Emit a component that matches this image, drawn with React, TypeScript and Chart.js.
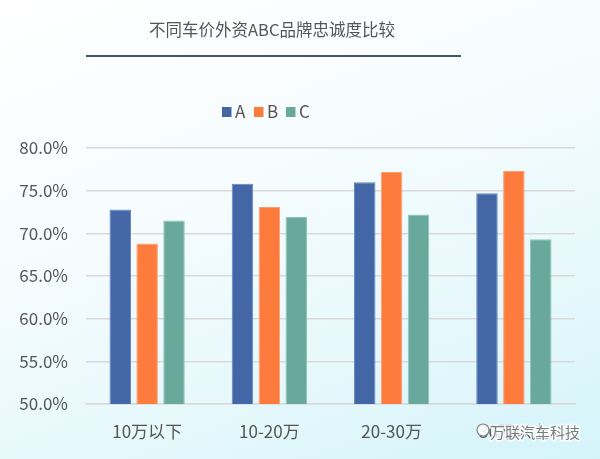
import React, { useEffect, useRef } from "react";
import { Chart, registerables } from "chart.js";

Chart.register(...registerables);

const titleText = "不同车价外资ABC品牌忠诚度比较";
const categories = ["10万以下", "10-20万", "20-30万", "30万以上"];
const seriesNames = ["A", "B", "C"];
const seriesA = [72.8, 75.8, 76.0, 74.7];
const seriesB = [68.8, 73.1, 77.2, 77.3];
const seriesC = [71.5, 71.9, 72.2, 69.3];
const yMin = 50;
const yMax = 80;
const yStep = 5;
const watermark = "万联汽车科技";

const colors = ["#4266a6", "#fe7b3e", "#69a99d"];
const borders = ["#6a88bd", "#ff9d70", "#93c4bb"];
const FONT = '"Noto Sans CJK SC", "Noto Sans", sans-serif';
const TEXT = "#555555";

const decorPlugin = {
  id: "decor",
  afterDraw(chart: any) {
    const ctx = chart.ctx;
    ctx.save();
    // title
    ctx.fillStyle = TEXT;
    ctx.font = `16.5px ${FONT}`;
    ctx.textAlign = "center";
    ctx.textBaseline = "middle";
    ctx.fillText(titleText, 272, 30);
    // rule under title
    ctx.strokeStyle = "#44546a";
    ctx.lineWidth = 2.2;
    ctx.beginPath();
    ctx.moveTo(86, 56);
    ctx.lineTo(461, 56);
    ctx.stroke();
    // legend
    ctx.font = `17px ${FONT}`;
    ctx.textAlign = "left";
    chart.data.datasets.forEach((ds: any, i: number) => {
      const x = 222 + i * 32;
      ctx.fillStyle = ds.backgroundColor;
      ctx.fillRect(x, 107, 9.5, 10);
      ctx.fillStyle = TEXT;
      ctx.fillText(ds.label, x + 13, 112);
    });
    // watermark
    ctx.font = `15px ${FONT}`;
    ctx.textAlign = "left";
    ctx.lineWidth = 3;
    ctx.strokeStyle = "rgba(255,255,255,0.85)";
    ctx.strokeText(watermark, 490, 432);
    ctx.fillStyle = "rgba(110,110,110,0.9)";
    ctx.fillText(watermark, 490, 432);
    ctx.beginPath();
    ctx.fillStyle = "rgba(255,255,255,0.9)";
    ctx.arc(483, 430, 6, 0, Math.PI * 2);
    ctx.fill();
    ctx.strokeStyle = "rgba(120,120,120,0.9)";
    ctx.lineWidth = 1.2;
    ctx.stroke();
    ctx.restore();
  },
};

export default function App() {
  const ref = useRef<HTMLCanvasElement>(null);
  useEffect(() => {
    if (!ref.current) return;
    const chart = new Chart(ref.current, {
      type: "bar",
      data: {
        labels: categories,
        datasets: [seriesA, seriesB, seriesC].map((d, i) => ({
          label: seriesNames[i],
          data: d,
          backgroundColor: colors[i],
          borderColor: borders[i],
          borderWidth: 1,
          categoryPercentage: 0.66,
          barPercentage: 0.8,
        })),
      },
      options: {
        animation: false,
        responsive: false,
        devicePixelRatio: 1,
        layout: { padding: { top: 148, left: 0, right: 25, bottom: 0 } },
        plugins: {
          legend: { display: false },
          title: { display: false },
          tooltip: { enabled: false },
        },
        scales: {
          x: {
            grid: { display: false, drawTicks: false },
            border: { display: true, color: "#d9d9d9", width: 1.5 },
            ticks: { color: TEXT, font: { family: FONT, size: 17 }, padding: 17, maxRotation: 0 },
            afterFit: (s: any) => { s.height = 55; },
          },
          y: {
            min: yMin,
            max: yMax,
            grid: { color: "#d9d9d9", lineWidth: 1.5, drawTicks: false },
            border: { display: false },
            ticks: {
              stepSize: yStep,
              color: TEXT,
              font: { family: FONT, size: 17 },
              padding: 18,
              callback: (v: any) => Number(v).toFixed(1) + "%",
            },
            afterFit: (s: any) => { s.width = 86; },
          },
        },
      },
      plugins: [decorPlugin],
    });
    return () => chart.destroy();
  }, []);
  return (
    <div
      style={{
        position: "fixed",
        left: 0,
        top: 0,
        width: 600,
        height: 459,
        background:
          "linear-gradient(160deg, #ffffff 0%, #f6fcfe 40%, #e4f8fc 75%, #d4f4fa 100%)",
      }}
    >
      <canvas ref={ref} width={600} height={459} style={{ display: "block" }} />
    </div>
  );
}
